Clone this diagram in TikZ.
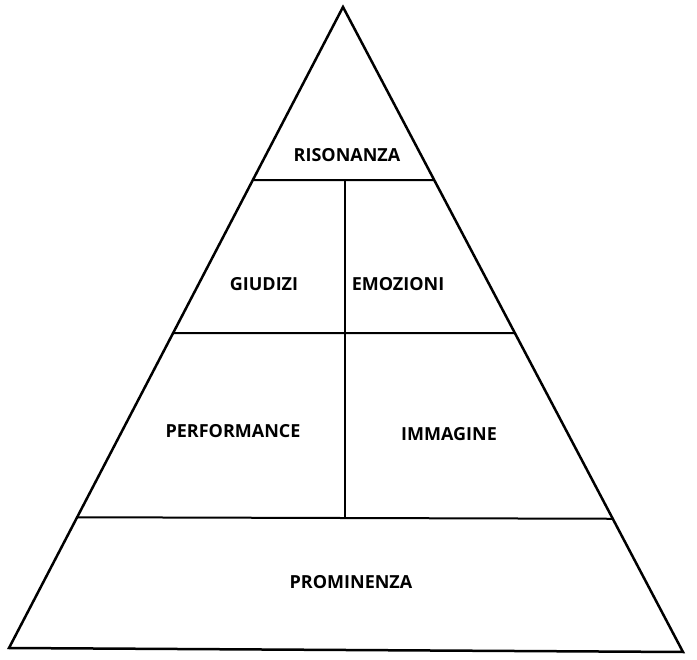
\documentclass[tikz,border=0pt]{standalone}
\usepackage{fontspec}
\setmainfont{Open Sans}
\begin{document}
\begin{tikzpicture}[x=1pt,y=-1pt,
  edge/.style={line width=2.5pt, line join=miter},
  divider/.style={line width=2pt},
  label/.style={font=\fontsize{18}{21}\selectfont\bfseries, inner sep=0pt}]
\useasboundingbox (0,0) rectangle (697,660);
% outline of the pyramid
\coordinate (apex) at (343,7);
\coordinate (bl) at (9,648);
\coordinate (br) at (683,652);
\draw[edge] (bl) -- (apex) -- (br) -- cycle;
% horizontal tier boundaries
\coordinate (l1) at (intersection of apex--bl and 0,180--697,180);
\coordinate (r1) at (intersection of apex--br and 0,180--697,180);
\coordinate (l2) at (intersection of apex--bl and 0,333--697,333);
\coordinate (r2) at (intersection of apex--br and 0,333--697,333);
\coordinate (l3) at (intersection of apex--bl and 0,517--697,519);
\coordinate (r3) at (intersection of apex--br and 0,517--697,519);
\draw[divider] (l1) -- (r1);
\draw[divider] (l2) -- (r2);
\draw[divider] (l3) -- (r3);
% vertical split of the two middle tiers
\coordinate (vtop) at (345,180);
\coordinate (vbot) at (345,518);
\draw[divider] (vtop) -- (vbot);
% tier labels
\node[label] (ris) at (347,155) {RISONANZA};
\node[label] (giu) at (264,284) {GIUDIZI};
\node[label] (emo) at (398,284) {EMOZIONI};
\node[label] (perf) at (233,431) {PERFORMANCE};
\node[label] (imm) at (449,434) {IMMAGINE};
\node[label] (prom) at (351,582) {PROMINENZA};
\end{tikzpicture}
\end{document}
